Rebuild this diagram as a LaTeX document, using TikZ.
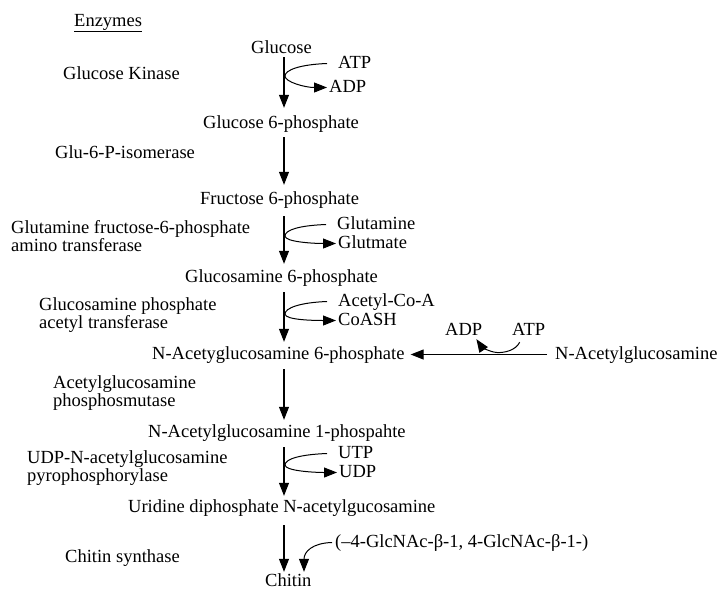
\documentclass[tikz,border=0pt]{standalone}
\usepackage{fontspec}
\setmainfont{Liberation Serif}
\usetikzlibrary{arrows.meta}
\begin{document}
\begin{tikzpicture}[x=1pt,y=-1pt,
  every node/.style={inner sep=0pt, font=\fontsize{18.5}{18.5}\selectfont},
  lbl/.style={anchor=base west, text height=13pt, text depth=4pt},
  enz/.style={anchor=north west, align=left},
  tipend/.style={-{Triangle[length=13pt,width=10pt]}},
  mainarr/.style={tipend, line width=1.1pt},
  sidearr/.style={tipend, line width=1pt},
]
\useasboundingbox (0,0) rectangle (720,590);
\coordinate (ax) at (284,0);
\coordinate (cx) at (304,0);

% heading
\node[lbl] (enzh) at (74,26) {Enzymes};
\draw[line width=0.8pt] ([yshift=-1pt]enzh.south west) -- ([yshift=-1pt]enzh.south east);

% main metabolites
\node[lbl] (glc)    at (251,53)  {Glucose};
\node[lbl] (g6p)    at (203,128) {Glucose 6-phosphate};
\node[lbl] (f6p)    at (200,204) {Fructose 6-phosphate};
\node[lbl] (gn6p)   at (185,282) {Glucosamine 6-phosphate};
\node[lbl] (nag6p)  at (152,359) {N-Acetyglucosamine 6-phosphate};
\node[lbl] (nag1p)  at (148,437) {N-Acetylglucosamine 1-phospahte};
\node[lbl] (udpn)   at (128,512) {Uridine diphosphate N-acetylgucosamine};
\node[lbl] (chitin) at (265,586) {Chitin};

% enzymes
\node[lbl] (e1) at (63,79)  {Glucose Kinase};
\node[lbl] (e2) at (55,158) {Glu-6-P-isomerase};
\node[enz] (e3) at (11,220) {Glutamine fructose-6-phosphate\\amino transferase};
\node[enz] (e4) at (39,297) {Glucosamine phosphate\\acetyl transferase};
\node[enz] (e5) at (53,375) {Acetylglucosamine\\phosphosmutase};
\node[enz] (e6) at (27,450) {UDP-N-acetylglucosamine\\pyrophosphorylase};
\node[lbl] (e7) at (65,562) {Chitin synthase};

% co-substrates
\node[lbl] (atp1)  at (338,68)  {ATP};
\node[lbl] (adp1)  at (329,92)  {ADP};
\coordinate (t1) at (285,76);
\node[lbl] (gln)   at (337,229) {Glutamine};
\node[lbl] (glu)   at (338,248) {Glutmate};
\coordinate (t2) at (285,236);
\node[lbl] (acoa)  at (338,306) {Acetyl-Co-A};
\node[lbl] (coash) at (338,325) {CoASH};
\coordinate (t3) at (285,314);
\node[lbl] (utp)   at (338,458) {UTP};
\node[lbl] (udp)   at (339,477) {UDP};
\coordinate (t4) at (285,465);

\node[lbl] (nag)  at (555,359) {N-Acetylglucosamine};
\node[lbl] (adp2) at (445,335) {ADP};
\node[lbl] (atp2) at (512,335) {ATP};
\coordinate (t5) at (497,352.5);
\node[lbl] (poly) at (335,547) {(–4-GlcNAc-β-1, 4-GlcNAc-β-1-)};

% main pathway arrows
\foreach \a/\b/\s/\e in {glc/g6p/0/7, g6p/f6p/5/6, f6p/gn6p/8/5, gn6p/nag6p/6/4,
                         nag6p/nag1p/6/4, nag1p/udpn/6/3, udpn/chitin/9/1}
  \draw[mainarr, shorten <=\s pt, shorten >=\e pt] (\a.south -| ax) -- (\b.north -| ax);

\draw[mainarr] ([xshift=-8pt]nag.west) -- ([xshift=6pt]nag6p.east);

% side reactions
\draw[sidearr] ([xshift=-11pt]atp1.west) .. controls +(-27,1) and +(0,-6) .. (t1)
               .. controls +(0,6) and +(-22,0) .. ([xshift=-2pt]adp1.west);
\draw[sidearr] ([xshift=-11pt]gln.west) .. controls +(-27,1) and +(0,-6) .. (t2)
               .. controls +(0,6) and +(-22,0) .. ([xshift=-2pt]glu.west);
\draw[sidearr] ([xshift=-11pt]acoa.west) .. controls +(-27,1) and +(0,-6) .. (t3)
               .. controls +(0,6) and +(-22,0) .. ([xshift=-2pt]coash.west);
\draw[sidearr] ([xshift=-11pt]utp.west) .. controls +(-27,1) and +(0,-6) .. (t4)
               .. controls +(0,6) and +(-22,0) .. ([xshift=-2pt]udp.west);

\draw[sidearr] ([shift={(-9pt,-3pt)}]atp2.south) .. controls (516,350) and (505,353) .. (t5)
               .. controls (489,352) and (481,346) .. ([xshift=-6pt]adp2.south east);

\draw[sidearr, shorten >=1pt] ([xshift=-3pt]poly.west) .. controls (312,543) and (304,552) .. (chitin.north -| cx);
\end{tikzpicture}
\end{document}
